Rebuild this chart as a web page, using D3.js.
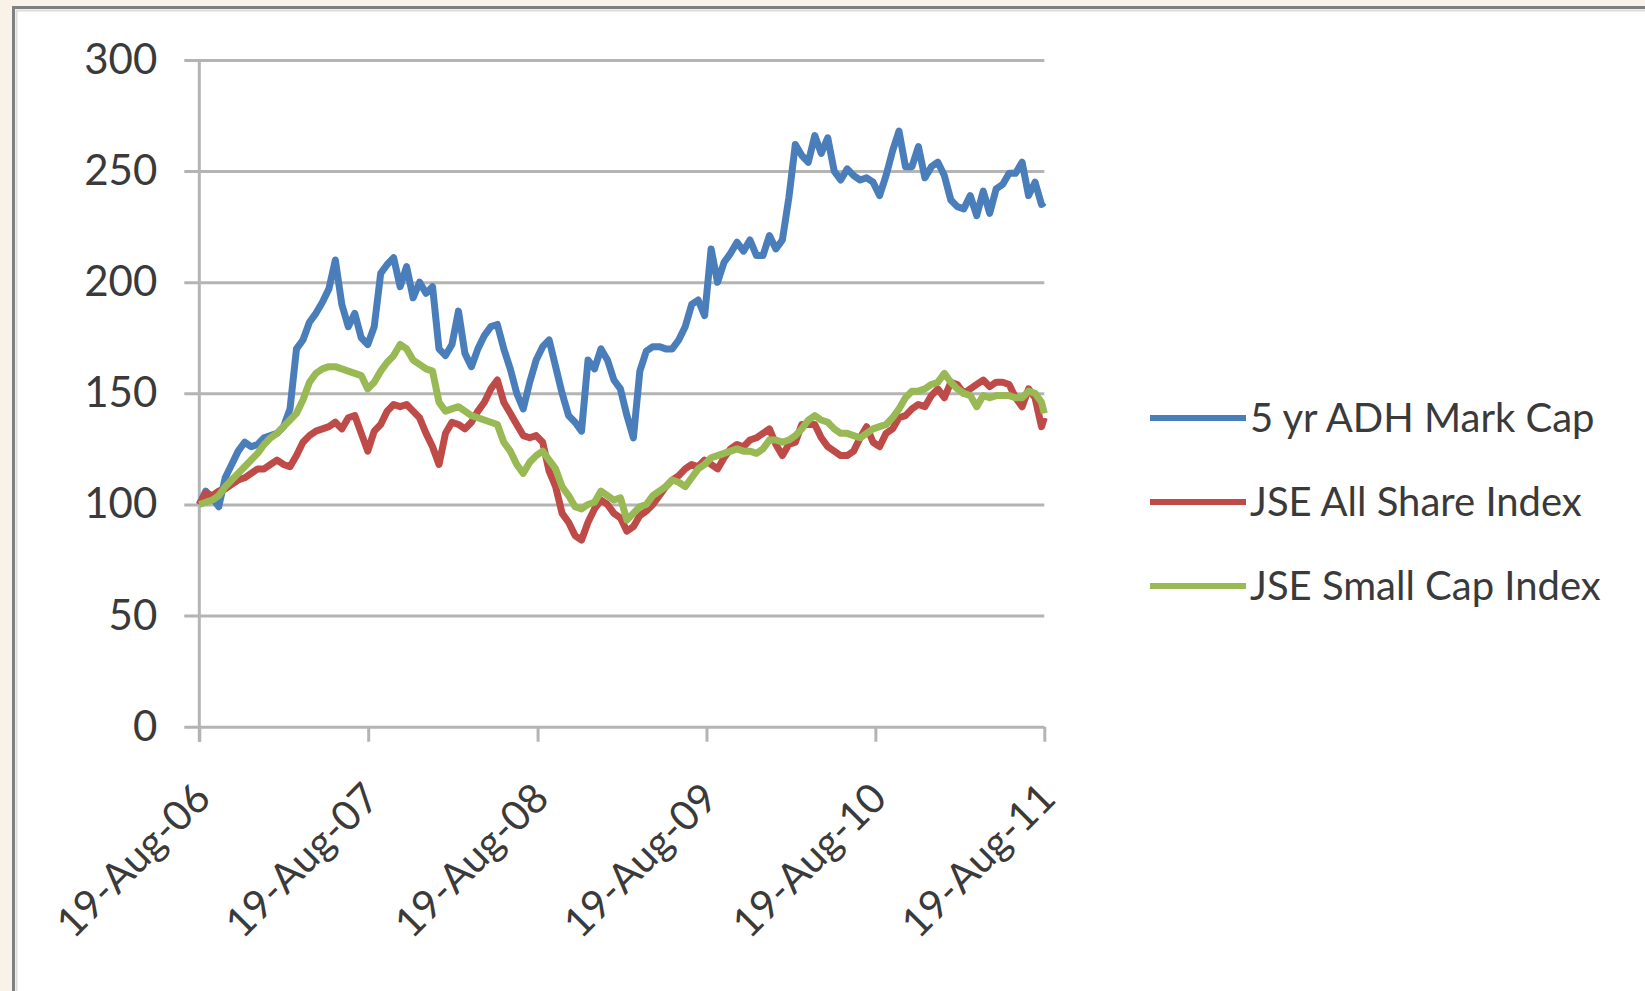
<!DOCTYPE html>
<html>
<head>
<meta charset="utf-8">
<script src="https://cdn.jsdelivr.net/npm/d3@7/dist/d3.min.js"></script>
<style>
  html, body { margin: 0; padding: 0; background: #f8f2e8; }
  svg { display: block; }
  text { font-family: Lato, "Open Sans", sans-serif; fill: #3a3a3a; }
</style>
</head>
<body>
<svg id="chart" width="1645" height="991"></svg>
<script>
// DATA (fortnightly readings, indexed to 100 on 19-Aug-06)
const dates = [
  "2006-08-19","2006-09-02","2006-09-16","2006-09-30","2006-10-14","2006-10-28","2006-11-11","2006-11-25","2006-12-09","2006-12-23",
  "2007-01-06","2007-01-20","2007-02-03","2007-02-17","2007-03-03","2007-03-17","2007-03-31","2007-04-14","2007-04-28","2007-05-12",
  "2007-05-26","2007-06-09","2007-06-23","2007-07-07","2007-07-21","2007-08-04","2007-08-18","2007-09-01","2007-09-15","2007-09-29",
  "2007-10-13","2007-10-27","2007-11-10","2007-11-24","2007-12-08","2007-12-22","2008-01-05","2008-01-19","2008-02-02","2008-02-16",
  "2008-03-01","2008-03-15","2008-03-29","2008-04-12","2008-04-26","2008-05-10","2008-05-24","2008-06-07","2008-06-21","2008-07-05",
  "2008-07-19","2008-08-02","2008-08-16","2008-08-30","2008-09-13","2008-09-27","2008-10-11","2008-10-25","2008-11-08","2008-11-22",
  "2008-12-06","2008-12-20","2009-01-03","2009-01-17","2009-01-31","2009-02-14","2009-02-28","2009-03-14","2009-03-28","2009-04-11",
  "2009-04-25","2009-05-09","2009-05-23","2009-06-06","2009-06-20","2009-07-04","2009-07-18","2009-08-01","2009-08-15","2009-08-29",
  "2009-09-12","2009-09-26","2009-10-10","2009-10-24","2009-11-07","2009-11-21","2009-12-05","2009-12-19","2010-01-02","2010-01-16",
  "2010-01-30","2010-02-13","2010-02-27","2010-03-13","2010-03-27","2010-04-10","2010-04-24","2010-05-08","2010-05-22","2010-06-05",
  "2010-06-19","2010-07-03","2010-07-17","2010-07-31","2010-08-14","2010-08-28","2010-09-11","2010-09-25","2010-10-09","2010-10-23",
  "2010-11-06","2010-11-20","2010-12-04","2010-12-18","2011-01-01","2011-01-15","2011-01-29","2011-02-12","2011-02-26","2011-03-12",
  "2011-03-26","2011-04-09","2011-04-23","2011-05-07","2011-05-21","2011-06-04","2011-06-18","2011-07-02","2011-07-16","2011-07-30",
  "2011-08-13","2011-08-19"
];

const adhMarkCap = [
  100,106,103,99,112,118,124,128,126,127,
  130,131,132,135,143,170,174,182,186,191,
  197,210,190,180,186,175,172,180,204,208,
  211,198,207,193,200,195,198,170,167,172,
  187,168,162,170,176,180,181,170,161,150,
  143,155,165,171,174,162,150,140,137,133,
  165,161,170,165,156,152,140,130,160,169,
  171,171,170,170,174,180,190,192,185,215,
  200,209,213,218,214,219,212,212,221,215,
  219,238,262,257,254,266,258,265,250,246,
  251,248,246,247,245,239,248,259,268,252,
  252,261,247,252,254,248,237,234,233,239,
  230,241,231,242,244,249,249,254,239,245,
  235,236
];

const jseAllShare = [
  100,105,104,106,107,109,111,112,114,116,
  116,118,120,118,117,122,128,131,133,134,
  135,137,134,139,140,132,124,133,136,142,
  145,144,145,142,139,132,126,118,132,137,
  136,134,137,142,146,152,156,146,141,136,
  131,130,131,128,115,108,96,92,86,84,
  92,98,102,100,96,94,88,90,95,97,
  100,104,108,111,113,116,118,117,120,118,
  116,121,125,127,126,129,130,132,134,127,
  122,127,128,136,136,136,130,126,124,122,
  122,124,130,135,128,126,132,134,139,140,
  143,145,144,149,152,148,155,154,150,152,
  154,156,153,155,155,154,148,144,152,148,
  135,139
];

const jseSmallCap = [
  100,101,102,104,108,111,114,117,120,123,
  127,130,132,135,138,141,147,155,159,161,
  162,162,161,160,159,158,152,155,160,164,
  167,172,170,165,163,161,160,146,142,143,
  144,142,140,139,138,137,136,128,124,118,
  114,119,122,124,120,116,108,104,99,98,
  100,101,106,104,102,103,93,96,99,100,
  104,106,108,111,110,108,112,116,118,121,
  122,123,124,125,124,124,123,125,129,129,
  128,129,131,134,138,140,138,137,134,132,
  132,131,130,132,134,135,136,139,143,148,
  151,151,152,154,155,159,155,152,150,149,
  144,149,148,149,149,149,148,148,151,150,
  146,141
];

const seriesNames = ["5 yr ADH Mark Cap", "JSE All Share Index", "JSE Small Cap Index"];
const seriesColors = ["#4a7ebb", "#be4b48", "#98b954"];

const yTicks = [0, 50, 100, 150, 200, 250, 300];
const xTickDates = ["2006-08-19","2007-08-19","2008-08-19","2009-08-19","2010-08-19","2011-08-19"];
const xTickLabels = ["19-Aug-06","19-Aug-07","19-Aug-08","19-Aug-09","19-Aug-10","19-Aug-11"];

// SETUP
const parse = d3.timeParse("%Y-%m-%d");
const svg = d3.select("#chart");
const plot = {left: 199.3, right: 1044.3, top: 60, bottom: 726.7};
const tick = 15;

// white panel with the grey frame on top and left
svg.append("rect")
  .attr("x", 13.5).attr("y", 7.5)
  .attr("width", 1700).attr("height", 1100)
  .attr("fill", "#ffffff")
  .attr("stroke", "#808080")
  .attr("stroke-width", 3);
svg.append("path")
  .attr("d", "M16.5,1100V10.5H1700")
  .attr("fill", "none")
  .attr("stroke", "#dcdcdc")
  .attr("stroke-width", 2);

const x = d3.scaleTime()
  .domain([parse(xTickDates[0]), parse(xTickDates[xTickDates.length - 1])])
  .range([plot.left, plot.right]);
const y = d3.scaleLinear()
  .domain([0, 300])
  .range([plot.bottom, plot.top]);

// GRIDLINES
const grid = svg.append("g")
  .attr("transform", "translate(" + plot.right + ",0)")
  .call(d3.axisLeft(y).tickValues(yTicks).tickSize(plot.right - plot.left + tick).tickFormat(""));
grid.select(".domain").remove();
grid.selectAll("line").attr("stroke", "#b4b4b4").attr("stroke-width", 3);

// Y AXIS
const yAxis = svg.append("g")
  .attr("transform", "translate(" + plot.left + ",0)")
  .call(d3.axisLeft(y).tickValues(yTicks).tickSize(tick).tickPadding(27));
yAxis.select(".domain").remove();
yAxis.selectAll("line").remove();
yAxis.selectAll("text")
  .attr("font-size", 42)
  .attr("dy", "0.32em")
  .attr("fill", "#3a3a3a");
svg.append("line")
  .attr("x1", plot.left).attr("x2", plot.left)
  .attr("y1", plot.top).attr("y2", plot.bottom + tick)
  .attr("stroke", "#b4b4b4").attr("stroke-width", 3);

// X AXIS
const xAxis = svg.append("g")
  .attr("transform", "translate(0," + plot.bottom + ")")
  .call(d3.axisBottom(x)
    .tickValues(xTickDates.map(parse))
    .tickSize(tick)
    .tickFormat((d, i) => xTickLabels[i]));
xAxis.select(".domain").remove();
xAxis.selectAll("line").attr("stroke", "#b4b4b4").attr("stroke-width", 3);
xAxis.selectAll("text")
  .attr("font-size", 41)
  .attr("fill", "#3a3a3a")
  .attr("text-anchor", "end")
  .attr("dy", 0)
  .attr("y", 0)
  .attr("transform", "translate(13,74) rotate(-45)");

// LINES
const allSeries = [adhMarkCap, jseAllShare, jseSmallCap];
const line = d3.line()
  .x(d => x(d.date))
  .y(d => y(d.value));

allSeries.forEach(function(values, s){
  const data = values.map((v, i) => ({date: parse(dates[i]), value: v}));
  svg.append("path")
    .datum(data)
    .attr("d", line)
    .attr("fill", "none")
    .attr("stroke", seriesColors[s])
    .attr("stroke-width", 7)
    .attr("stroke-linejoin", "round");
});

// LEGEND
const legend = svg.append("g").attr("transform", "translate(1150,418)");
seriesNames.forEach(function(name, i){
  const g = legend.append("g").attr("transform", "translate(0," + (i * 84) + ")");
  g.append("line")
    .attr("x1", 0).attr("x2", 96)
    .attr("stroke", seriesColors[i])
    .attr("stroke-width", 6);
  g.append("text")
    .attr("x", 100)
    .attr("dy", "0.35em")
    .attr("font-size", 40)
    .text(name);
});
</script>
</body>
</html>
